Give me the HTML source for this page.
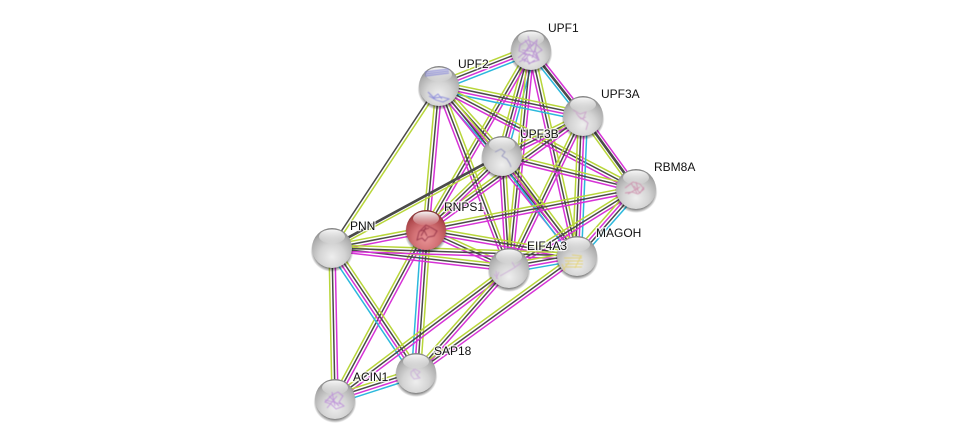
<!DOCTYPE html>
<html>
<head>
<meta charset="utf-8">
<style>
html,body{margin:0;padding:0;background:#fff;width:975px;height:444px;overflow:hidden}
svg{display:block}
text{font-family:"Liberation Sans",sans-serif;font-size:12px;fill:#111;paint-order:stroke;stroke:rgba(255,255,255,.8);stroke-width:2.5px}
</style>
</head>
<body>
<svg id="s" width="975" height="444" viewBox="0 0 975 444" xmlns="http://www.w3.org/2000/svg">
<defs>
<radialGradient id="b" cx="50%" cy="72%" r="72%">
<stop offset="0" stop-color="#eeeeee"/><stop offset=".45" stop-color="#d4d4d4"/><stop offset=".8" stop-color="#aeaeae"/><stop offset="1" stop-color="#808080"/>
</radialGradient>
<radialGradient id="r" cx="50%" cy="72%" r="72%">
<stop offset="0" stop-color="#e89496"/><stop offset=".45" stop-color="#d27074"/><stop offset=".8" stop-color="#b04a4e"/><stop offset="1" stop-color="#7a2c2e"/>
</radialGradient>
<linearGradient id="h" x1="0" y1="0" x2="0" y2="1">
<stop offset="0" stop-color="#fff" stop-opacity=".95"/><stop offset="1" stop-color="#fff" stop-opacity=".05"/>
</linearGradient>
<radialGradient id="sh"><stop offset=".78" stop-color="#000" stop-opacity=".6"/><stop offset="1" stop-color="#000" stop-opacity="0"/></radialGradient>
<filter id="bl" x="-20%" y="-20%" width="140%" height="140%"><feGaussianBlur stdDeviation=".45"/></filter>
</defs>
<g id="edges"></g>
<g id="nodes"></g>
<g id="scribbles" fill="none" stroke-width=".9" filter="url(#bl)" opacity=".85">
<path d="M520 45l8-5 8 4 6 6-6 4 3 6-9 3-8-4 5-5-8-3zM525 40l12 18M518 58l16-14M522 50l14 2 3 8-10-6-5 8M528 36l3 10 6-6-2 12M519 62l8-4 2 6 6-4M530 44l-6 10 10 2M536 46l-4 12" stroke="#b488d0"/>
<path d="M425 72l24-3M425 74l24-3M425 76l24-3M428 92l6 6 8-1 7 2-6 3-7-2-7-4M434 97l4-3 4 5" stroke="#7878d8"/>
<path d="M573 110l7 4 6-2-3 7 5 4-2 7M578 116l9 6M576 113l5 6 5-2" stroke="#c898c8"/>
<path d="M495 152l6-3 4 3-3 4 5 3 3 5 1 3" stroke="#8888b8"/>
<path d="M625 188l8-6 7 2 4 5-6 5-6-2-7 1M631 183l6 10M628 194l12-7M634 186l6 7 4-6M636 182l2 8" stroke="#cc88a8"/>
<path d="M417 240l2-8 7-7 6 3 5 3-3 5-6 1-3 4-3-3zM424 230l3 6M421 231l8-3M426 227l-5 9" stroke="#8a2a40"/>
<path d="M496 271l1 6M494 274l4 5M499 272l-3 7M500 276l14-8 7-5M512 262l3 5" stroke="#c8a4d4"/>
<path d="M564 258h18M565 261h18M565 264h18M566 267h16M563 270l6-8M575 268l6-12M572 255l10 1M562 264l3 7" stroke="#e2cf66"/>
<path d="M325 402l7-7 6-3 5 4-4 6 5 4-8 3-5-5zM329 396l10 10M327 408l10-12M332 392l3 14M325 400l16 4" stroke="#b884d8"/>
<path d="M411 372l4-3 5 3-3 3 3 3-6 1-3-4zM413 369l5 8" stroke="#c8a8d8"/>
</g>
<text x="548" y="32">UPF1</text>
<text x="458" y="68">UPF2</text>
<text x="601" y="98">UPF3A</text>
<text x="520" y="138">UPF3B</text>
<text x="654" y="171">RBM8A</text>
<text x="444" y="211">RNPS1</text>
<text x="350" y="230">PNN</text>
<text x="527" y="250">EIF4A3</text>
<text x="596" y="237">MAGOH</text>
<text x="353" y="381">ACIN1</text>
<text x="434" y="355">SAP18</text>
</svg>
<script>
var N={A:[531,50],B:[439,86],C:[583,116],D:[502,156],E:[636,189],F:[426,230],G:[332,248],H:[509,268],I:[577,256],J:[335,399],K:[416,373]};
var col={y:"#b8d63a",k:"#4a4a4a",K:"#4a4a4a",m:"#d632d6",c:"#2cb8dc"};
var E="AB:ykmc AC:mKc AD:ykmc AF:ykm AH:ykm AI:ykm BC:ykmc BD:ykmc BE:ykm BF:ykm BG:ky BH:ykm BI:ykm CD:ykm CE:mKy CF:ykm CH:ykm CI:ykmc DE:ykm DF:ykm DG:Ky DH:ykm DI:ykmc EF:ykm EH:ykm EI:ymkc FG:ykm FH:ykm FI:ykm FK:cmky FJ:ykm GH:ykm GI:ykm GJ:mky GK:ykmc HI:ykmc HJ:ykm HK:ykm IK:ykm JK:ykmc".split(" ");
var ns="http://www.w3.org/2000/svg",g=document.getElementById("edges"),gap=3;
E.forEach(function(e){
 var p=e.split(":"),a=N[p[0][0]],b=N[p[0][1]],c=p[1];
 var dx=b[0]-a[0],dy=b[1]-a[1],l=Math.sqrt(dx*dx+dy*dy),nx=-dy/l,ny=dx/l;
 if(ny<0){nx=-nx;ny=-ny}
 for(var i=0;i<c.length;i++){
  var o=(i-(c.length-1)/2)*gap,t=document.createElementNS(ns,"line");
  t.setAttribute("x1",a[0]+nx*o);t.setAttribute("y1",a[1]+ny*o);
  t.setAttribute("x2",b[0]+nx*o);t.setAttribute("y2",b[1]+ny*o);
  t.setAttribute("stroke",col[c[i]]);t.setAttribute("stroke-width",c[i]=="K"?2.6:1.5);
  g.appendChild(t);
 }
});
var n=document.getElementById("nodes"),h="";
for(var k in N){
 var x=N[k][0],y=N[k][1],f=k=="F"?"r":"b";
 h+='<ellipse cx="'+x+'" cy="'+(y+3)+'" rx="21.5" ry="21" fill="url(#sh)"/>';
 h+='<circle cx="'+x+'" cy="'+y+'" r="20" fill="url(#'+f+')"/>';
 h+='<ellipse cx="'+x+'" cy="'+(y-11.5)+'" rx="13" ry="7" fill="url(#h)"/>';
}
n.innerHTML=h;
</script>
</body>
</html>
